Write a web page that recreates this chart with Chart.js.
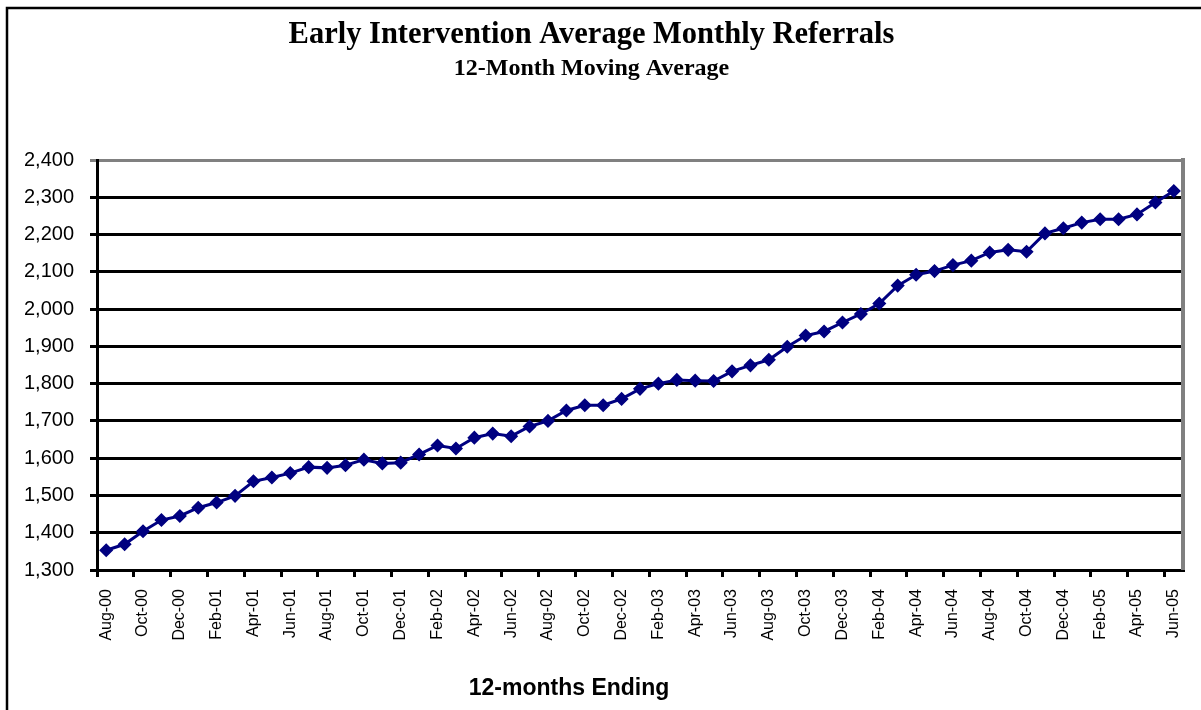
<!DOCTYPE html>
<html>
<head>
<meta charset="utf-8">
<script src="https://cdn.jsdelivr.net/npm/chart.js@4.4.1/dist/chart.umd.min.js"></script>
<style>
  html, body { margin: 0; padding: 0; background: #fff; }
  #wrap { width: 1201px; height: 710px; position: relative; }
</style>
</head>
<body>
<div id="wrap"><canvas id="chart"></canvas></div>
<script>
// 12 months ending, monthly
const months = [
  "Aug-00", "Sep-00", "Oct-00", "Nov-00", "Dec-00",
  "Jan-01", "Feb-01", "Mar-01", "Apr-01", "May-01", "Jun-01",
  "Jul-01", "Aug-01", "Sep-01", "Oct-01", "Nov-01", "Dec-01",
  "Jan-02", "Feb-02", "Mar-02", "Apr-02", "May-02", "Jun-02",
  "Jul-02", "Aug-02", "Sep-02", "Oct-02", "Nov-02", "Dec-02",
  "Jan-03", "Feb-03", "Mar-03", "Apr-03", "May-03", "Jun-03",
  "Jul-03", "Aug-03", "Sep-03", "Oct-03", "Nov-03", "Dec-03",
  "Jan-04", "Feb-04", "Mar-04", "Apr-04", "May-04", "Jun-04",
  "Jul-04", "Aug-04", "Sep-04", "Oct-04", "Nov-04", "Dec-04",
  "Jan-05", "Feb-05", "Mar-05", "Apr-05", "May-05", "Jun-05"
];

const referrals = [
  1353, 1369, 1404, 1434, 1445,
  1467, 1481, 1499, 1538, 1548, 1560,
  1576, 1574, 1581, 1596, 1586, 1588,
  1610, 1634, 1626, 1655, 1666, 1659,
  1685, 1700, 1728, 1742, 1742, 1759,
  1786, 1800, 1810, 1808, 1807, 1833,
  1849, 1864, 1899, 1929, 1940, 1964,
  1987, 2015, 2063, 2092, 2102, 2118,
  2130, 2152, 2159, 2154, 2203, 2217,
  2232, 2241, 2241, 2254, 2286, 2317
];

const yMin = 1300;
const yMax = 2400;
const yStep = 100;

const titleText = "Early Intervention Average Monthly Referrals";
const subtitleText = "12-Month Moving Average";
const xTitleText = "12-months Ending";

// outer frame, gray plot border, x axis title
const frame = {
  id: "frame",
  beforeDraw(chart) {
    const ctx = chart.ctx;
    ctx.save();
    ctx.strokeStyle = "#000";
    ctx.lineWidth = 2.5;
    ctx.strokeRect(7, 8, 1210, 720);
    ctx.restore();
  },
  beforeDatasetsDraw(chart) {
    const { ctx, chartArea } = chart;
    ctx.save();
    ctx.strokeStyle = "#808080";
    ctx.lineWidth = 4;
    ctx.beginPath();
    ctx.moveTo(chartArea.right, chartArea.top - 2);
    ctx.lineTo(chartArea.right, chartArea.bottom);
    ctx.stroke();
    ctx.restore();
  },
  afterDraw(chart) {
    const ctx = chart.ctx;
    ctx.save();
    ctx.fillStyle = "#000";
    ctx.font = "bold 23px 'Liberation Sans', Arial, sans-serif";
    ctx.textAlign = "center";
    ctx.textBaseline = "alphabetic";
    ctx.fillText(xTitleText, 569, 695);
    ctx.restore();
  }
};

new Chart(document.getElementById("chart"), {
  type: "line",
  data: {
    labels: months,
    datasets: [{
      label: "Referrals",
      data: referrals,
      borderColor: "#000080",
      backgroundColor: "#000080",
      borderWidth: 3,
      pointStyle: "rectRot",
      pointRadius: 6,
      pointBorderWidth: 1.5,
      pointBackgroundColor: "#000080",
      pointBorderColor: "#000080",
      tension: 0
    }]
  },
  options: {
    responsive: true,
    maintainAspectRatio: false,
    animation: false,
    layout: { padding: { left: 0, right: 18, top: 0, bottom: 0 } },
    plugins: {
      legend: { display: false },
      tooltip: { enabled: false },
      title: {
        display: true,
        text: titleText,
        color: "#000",
        font: { family: "'Liberation Serif', 'Times New Roman', serif", size: 30.5, weight: "bold" },
        padding: { top: 17, bottom: 1 }
      },
      subtitle: {
        display: true,
        text: subtitleText,
        color: "#000",
        font: { family: "'Liberation Serif', 'Times New Roman', serif", size: 24, weight: "bold" },
        padding: { top: 0, bottom: 76.6 }
      }
    },
    scales: {
      x: {
        type: "category",
        offset: true,
        afterFit(scale) {
          scale.height = 140;
          scale.paddingLeft = 0;
          scale.paddingRight = 0;
        },
        border: { display: true, color: "#000", width: 3 },
        grid: {
          offset: true,
          drawOnChartArea: false,
          drawTicks: true,
          tickLength: 7,
          lineWidth: 3,
          color: (c) => (c.index % 2 === 0 ? "#000" : "rgba(0,0,0,0)")
        },
        ticks: {
          autoSkip: false,
          minRotation: 90,
          maxRotation: 90,
          padding: 12,
          color: "#000",
          font: { family: "'Liberation Sans', Arial, sans-serif", size: 16 },
          callback: (v, i) => (i % 2 === 0 ? months[i] : "")
        }
      },
      y: {
        min: yMin,
        max: yMax,
        afterFit(scale) { scale.width = 97; },
        border: { display: true, color: "#000", width: 3 },
        grid: {
          lineWidth: 3,
          tickLength: 7,
          color: (c) => (c.tick && c.tick.value === yMax ? "#808080" : "#000")
        },
        ticks: {
          stepSize: yStep,
          padding: 16,
          color: "#000",
          font: { family: "'Liberation Sans', Arial, sans-serif", size: 20 },
          callback: (v) => v.toLocaleString("en-US")
        }
      }
    }
  },
  plugins: [frame]
});
</script>
</body>
</html>
